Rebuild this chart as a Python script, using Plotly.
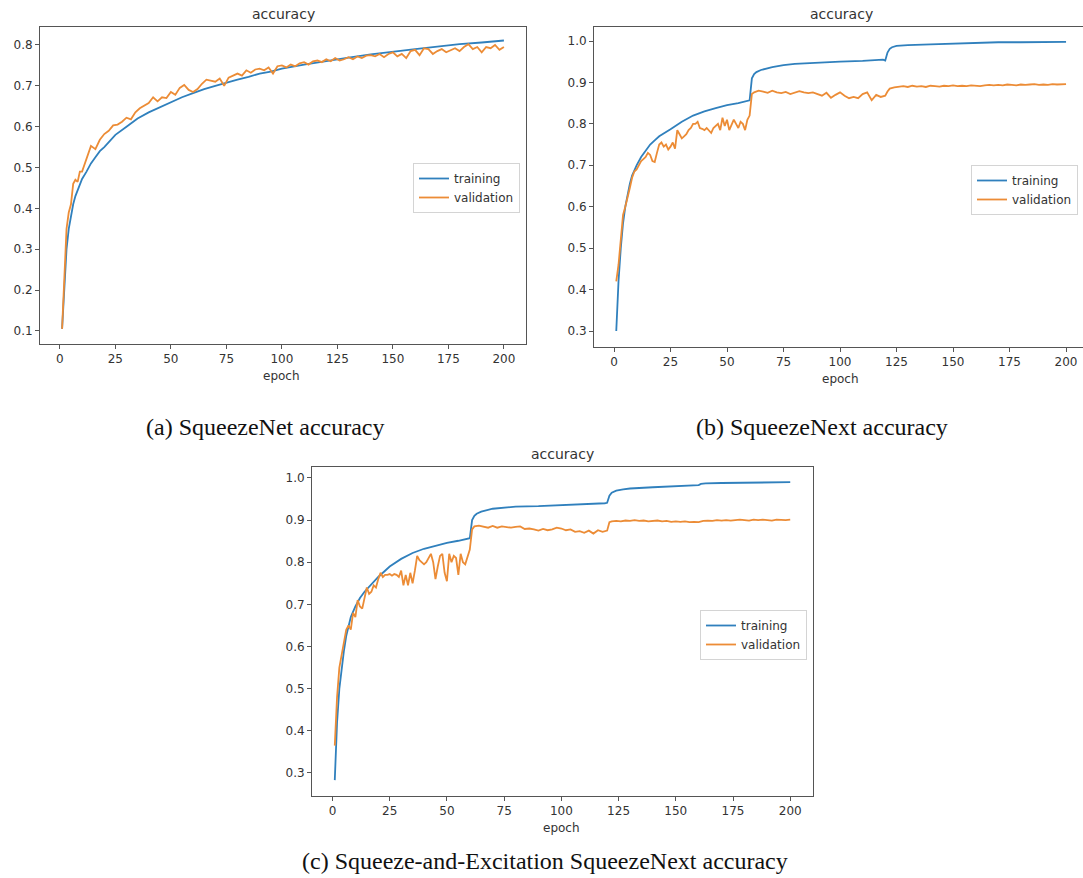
import plotly.graph_objects as go

W, H = 1083, 878

# ---------------- data ----------------
a_train_epochs = [1, 2, 3, 4, 5, 6, 7, 8, 9, 10, 12, 14, 16, 18, 20, 25, 30, 35, 40, 45, 50, 55, 60, 65, 70,
                  75, 80, 85, 90, 95, 100, 110, 120, 130, 140, 150, 160, 170, 180, 190, 200]
a_train = [0.105, 0.22, 0.30, 0.35, 0.385, 0.41, 0.43, 0.445, 0.46, 0.472, 0.49, 0.51, 0.525, 0.54, 0.55,
           0.58, 0.60, 0.62, 0.635, 0.648, 0.66, 0.672, 0.682, 0.692, 0.70, 0.708, 0.715, 0.722, 0.73,
           0.735, 0.742, 0.752, 0.761, 0.769, 0.777, 0.784, 0.79, 0.796, 0.802, 0.806, 0.811]

a_val_epochs = list(range(1, 12)) + list(range(12, 201, 2))
a_val = [0.105, 0.25, 0.35, 0.39, 0.41, 0.46, 0.47, 0.465, 0.49, 0.49, 0.505,
         0.52, 0.553, 0.545, 0.568, 0.582, 0.59, 0.603, 0.605, 0.612, 0.622,
         0.618, 0.635, 0.645, 0.652, 0.658, 0.672, 0.662, 0.672, 0.67, 0.685,
         0.678, 0.695, 0.702, 0.69, 0.685, 0.692, 0.705, 0.715, 0.712, 0.71,
         0.718, 0.700, 0.72, 0.725, 0.73, 0.725, 0.738, 0.732, 0.74, 0.742,
         0.738, 0.745, 0.73, 0.748, 0.75, 0.745, 0.752, 0.748, 0.755, 0.758,
         0.752, 0.76, 0.762, 0.758, 0.765, 0.76, 0.768, 0.762, 0.765, 0.77,
         0.765, 0.772, 0.768, 0.774, 0.775, 0.772, 0.778, 0.77, 0.778, 0.782,
         0.772, 0.778, 0.768, 0.785, 0.788, 0.775, 0.792, 0.79, 0.778, 0.785,
         0.79, 0.782, 0.788, 0.792, 0.785, 0.795, 0.802, 0.79, 0.795, 0.782,
         0.795, 0.792, 0.8, 0.788, 0.795]

b_train_epochs = [1, 2, 3, 4, 5, 6, 7, 8, 10, 12, 14, 16, 18, 20, 25, 30, 35, 40, 45, 50, 55, 59, 60, 61,
                  62, 63, 65, 70, 75, 80, 90, 100, 110, 119, 120, 121, 122, 123, 125, 127, 130, 140, 150,
                  160, 170, 180, 190, 200]
b_train = [0.30, 0.42, 0.50, 0.56, 0.60, 0.63, 0.655, 0.675, 0.70, 0.72, 0.735, 0.75, 0.76, 0.77,
           0.787, 0.805, 0.82, 0.83, 0.838, 0.845, 0.85, 0.855, 0.857, 0.91, 0.92, 0.925, 0.93,
           0.937, 0.942, 0.945, 0.948, 0.95, 0.952, 0.955, 0.953, 0.972, 0.981, 0.985, 0.988,
           0.989, 0.99, 0.992, 0.994, 0.995, 0.997, 0.997, 0.998, 0.998]

step_epochs = list(range(1, 61)) + [61, 62] + list(range(64, 121, 2)) + [121] + list(range(122, 201, 2))
b_val_epochs = step_epochs
b_val = [0.42, 0.46, 0.52, 0.58, 0.60, 0.62, 0.645, 0.67, 0.685, 0.69,
         0.70, 0.71, 0.715, 0.72, 0.73, 0.725, 0.71, 0.708, 0.73, 0.75,
         0.755, 0.745, 0.75, 0.738, 0.745, 0.755, 0.74, 0.785, 0.775, 0.765,
         0.77, 0.775, 0.785, 0.79, 0.80, 0.80, 0.805, 0.79, 0.788, 0.785,
         0.79, 0.785, 0.778, 0.79, 0.795, 0.80, 0.785, 0.815, 0.795, 0.81,
         0.785, 0.80, 0.81, 0.80, 0.79, 0.805, 0.80, 0.785, 0.81, 0.82,
         0.872, 0.876,
         0.88, 0.878, 0.875, 0.88, 0.876, 0.874, 0.877, 0.872, 0.876, 0.879,
         0.876, 0.874, 0.876, 0.872, 0.868, 0.875, 0.863, 0.87, 0.876, 0.868,
         0.862, 0.865, 0.862, 0.872, 0.876, 0.857, 0.87, 0.865, 0.868,
         0.878,
         0.885, 0.888, 0.89, 0.891, 0.889, 0.892, 0.89, 0.891, 0.889, 0.892,
         0.891, 0.89, 0.892, 0.891, 0.893, 0.891, 0.892, 0.891, 0.893, 0.892,
         0.891, 0.893, 0.894, 0.893, 0.894, 0.893, 0.895, 0.894, 0.893, 0.895,
         0.894, 0.895, 0.896, 0.894, 0.895, 0.894, 0.896, 0.895, 0.896, 0.896]

c_train_epochs = [1, 2, 3, 4, 5, 6, 7, 8, 10, 12, 14, 16, 18, 20, 25, 30, 35, 40, 45, 50, 55, 59, 60, 61,
                  62, 63, 65, 70, 75, 80, 90, 100, 110, 119, 120, 121, 122, 124, 127, 130, 140, 150, 159,
                  160, 161, 163, 170, 180, 190, 200]
c_train = [0.283, 0.42, 0.50, 0.55, 0.59, 0.625, 0.65, 0.67, 0.695, 0.715, 0.73, 0.742, 0.755, 0.765,
           0.79, 0.808, 0.822, 0.832, 0.839, 0.846, 0.851, 0.855, 0.857, 0.90, 0.91, 0.915, 0.92,
           0.927, 0.93, 0.932, 0.933, 0.935, 0.937, 0.94, 0.941, 0.958, 0.965, 0.97, 0.973, 0.975,
           0.978, 0.981, 0.982, 0.983, 0.986, 0.987, 0.988, 0.989, 0.99, 0.99]

c_val_epochs = step_epochs
c_val = [0.365, 0.48, 0.55, 0.58, 0.61, 0.64, 0.65, 0.64, 0.68, 0.67,
         0.71, 0.695, 0.69, 0.72, 0.74, 0.725, 0.73, 0.745, 0.74, 0.76,
         0.775, 0.765, 0.77, 0.77, 0.772, 0.768, 0.772, 0.77, 0.765, 0.78,
         0.745, 0.77, 0.745, 0.775, 0.75, 0.78, 0.815, 0.805, 0.80, 0.795,
         0.80, 0.81, 0.82, 0.80, 0.76, 0.79, 0.815, 0.82, 0.775, 0.755,
         0.82, 0.80, 0.815, 0.81, 0.77, 0.82, 0.80, 0.795, 0.815, 0.83,
         0.878, 0.885,
         0.887, 0.884, 0.882, 0.886, 0.882, 0.885, 0.883, 0.882, 0.884, 0.885,
         0.879, 0.88, 0.878, 0.875, 0.879, 0.876, 0.878, 0.882, 0.88, 0.876,
         0.878, 0.872, 0.874, 0.87, 0.875, 0.868, 0.876, 0.872, 0.875,
         0.895,
         0.897, 0.898, 0.897, 0.899, 0.898, 0.9, 0.898, 0.899, 0.897, 0.898,
         0.899, 0.897, 0.898, 0.896, 0.897, 0.896, 0.897, 0.895, 0.896, 0.895,
         0.898, 0.899, 0.898, 0.9, 0.899, 0.9, 0.899, 0.9, 0.901, 0.9,
         0.899, 0.901, 0.9, 0.901, 0.9, 0.899, 0.901, 0.9, 0.9, 0.901]

x_ticks = [0, 25, 50, 75, 100, 125, 150, 175, 200]
a_yticks = [0.1, 0.2, 0.3, 0.4, 0.5, 0.6, 0.7, 0.8]
bc_yticks = [0.3, 0.4, 0.5, 0.6, 0.7, 0.8, 0.9, 1.0]
series_names = ["training", "validation"]
titles = ["accuracy", "accuracy", "accuracy"]
captions = ["(a) SqueezeNet accuracy", "(b) SqueezeNext accuracy",
            "(c) Squeeze-and-Excitation SqueezeNext accuracy"]

# ---------------- style ----------------
BLUE = "#3080bd"
ORANGE = "#ec8c36"
TXT = "#333333"
AX = "#555555"
SANS = "DejaVu Sans"
SERIF = "Liberation Serif"


def px_x(p):
    return p / W


def px_y(p):
    return 1 - p / H


# panel boxes in pixels: (left, right, top, bottom), y ranges
panels = [
    dict(box=(40, 526, 27, 344), xr=[-8.95, 209.95], yr=[0.068, 0.844], yt=a_yticks,
         leg=(520, 163, "right"), full_right=526),
    dict(box=(594, 1083, 27, 347), xr=[-8.85, 207.5], yr=[0.2614, 1.0338], yt=bc_yticks,
         leg=(971, 165, "left"), full_right=1088),
    dict(box=(312, 813, 467, 796), xr=[-8.95, 209.95], yr=[0.2454, 1.026], yt=bc_yticks,
         leg=(807, 610, "right"), full_right=813),
]
data = [
    (a_train_epochs, a_train, a_val_epochs, a_val),
    (b_train_epochs, b_train, b_val_epochs, b_val),
    (c_train_epochs, c_train, c_val_epochs, c_val),
]

fig = go.Figure()
layout = dict(width=W, height=H, margin=dict(l=0, r=0, t=0, b=0, autoexpand=False),
              paper_bgcolor="white", plot_bgcolor="white", showlegend=True,
              font=dict(family=SANS, color=TXT, size=12))
annotations = []

for i, (p, d) in enumerate(zip(panels, data)):
    sfx = "" if i == 0 else str(i + 1)
    leg = "legend" if i == 0 else "legend%d" % (i + 1)
    te, tv, ve, vv = d
    fig.add_trace(go.Scatter(x=te, y=tv, mode="lines", name=series_names[0],
                             line=dict(color=BLUE, width=1.8),
                             xaxis="x" + sfx, yaxis="y" + sfx, legend=leg))
    fig.add_trace(go.Scatter(x=ve, y=vv, mode="lines", name=series_names[1],
                             line=dict(color=ORANGE, width=1.8),
                             xaxis="x" + sfx, yaxis="y" + sfx, legend=leg))
    l, r, t, b = p["box"]
    layout["xaxis" + sfx] = dict(domain=[px_x(l), px_x(r)], range=p["xr"], anchor="y" + sfx,
                                 automargin=False,
                                 tickvals=x_ticks, ticks="outside", ticklen=4, tickcolor=AX,
                                 showline=True, linecolor=AX, linewidth=1, mirror=True,
                                 showgrid=False, zeroline=False,
                                 tickfont=dict(family=SANS, size=12, color=TXT))
    layout["yaxis" + sfx] = dict(domain=[px_y(b), px_y(t)], range=p["yr"], anchor="x" + sfx,
                                 automargin=False,
                                 tickvals=p["yt"], ticktext=["%.1f" % v for v in p["yt"]],
                                 ticks="outside", ticklen=4, tickcolor=AX,
                                 showline=True, linecolor=AX, linewidth=1, mirror=True,
                                 showgrid=False, zeroline=False,
                                 tickfont=dict(family=SANS, size=12, color=TXT))
    lx, ly, anc = p["leg"]
    layout[leg] = dict(x=px_x(lx), y=px_y(ly), xanchor=anc, yanchor="top", itemwidth=30,
                       bgcolor="rgba(255,255,255,0.9)", bordercolor="#d4d4d4", borderwidth=1,
                       font=dict(family=SANS, size=12, color=TXT), tracegroupgap=0)
    # title, centred on the full (possibly cropped) axes box
    cx = (l + p["full_right"]) / 2
    annotations.append(dict(text=titles[i], x=px_x(cx), y=px_y(t - 13), xref="paper", yref="paper",
                            showarrow=False, xanchor="center", yanchor="middle",
                            font=dict(family=SANS, size=14, color=TXT)))
    # x label, centred between ticks 0 and 200
    x0 = l + (0 - p["xr"][0]) / (p["xr"][1] - p["xr"][0]) * (r - l)
    x200 = l + (200 - p["xr"][0]) / (p["xr"][1] - p["xr"][0]) * (r - l)
    annotations.append(dict(text="epoch", x=px_x((x0 + x200) / 2), y=px_y(b + 32), xref="paper",
                            yref="paper", showarrow=False, xanchor="center", yanchor="middle",
                            font=dict(family=SANS, size=12, color=TXT)))

cap_pos = [(265, 427), (822, 427), (545, 861)]
for txt, (cx, cy) in zip(captions, cap_pos):
    annotations.append(dict(text=txt, x=px_x(cx), y=px_y(cy), xref="paper", yref="paper",
                            showarrow=False, xanchor="center", yanchor="middle",
                            font=dict(family=SERIF, size=24, color="#111111")))

layout["annotations"] = annotations
fig.update_layout(**layout)
# remove the browser's default 8px body margin so the figure sits at the window origin
fig.write_html("out.html", config={"displayModeBar": False},
               post_script="document.body.style.margin='0';document.body.style.overflow='hidden';")
